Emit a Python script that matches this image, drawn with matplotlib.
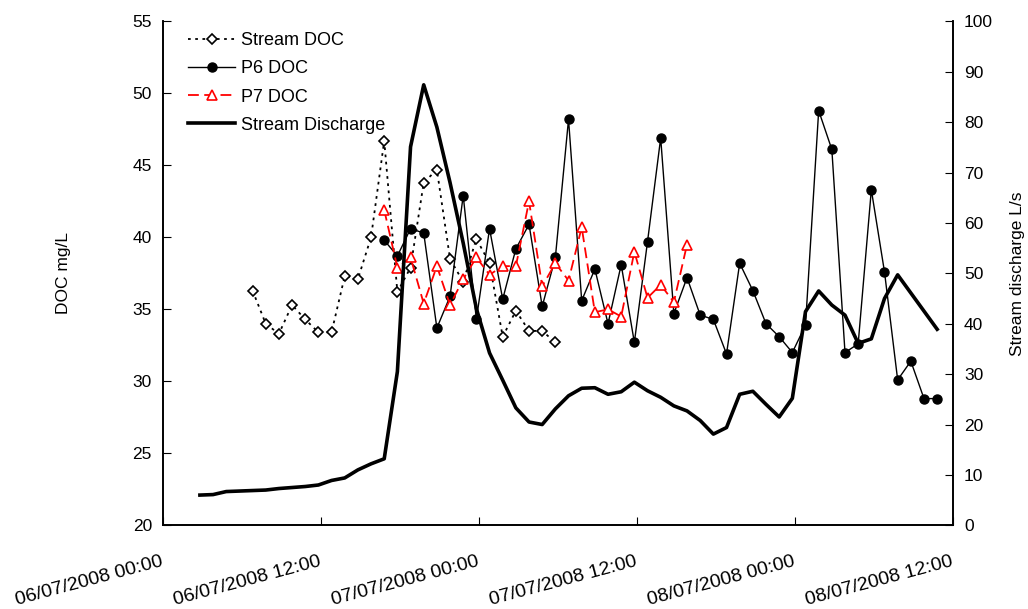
import matplotlib
matplotlib.use("Agg")
import matplotlib.pyplot as plt

plt.rcParams["font.family"] = ["Liberation Sans", "DejaVu Sans"]

# hours since 06/07/2008 00:00
stream_doc_hours = [6.8, 7.8, 8.8, 9.8, 10.8, 11.8, 12.8, 13.8, 14.8, 15.8, 16.8, 17.8,
                    18.8, 19.8, 20.8, 21.8, 22.8, 23.8, 24.8, 25.8, 26.8, 27.8, 28.8, 29.8]
stream_doc = [36.3, 34.0, 33.3, 35.3, 34.3, 33.4, 33.4, 37.3, 37.1, 40.0, 46.7, 36.2,
              37.9, 43.8, 44.7, 38.5, 36.9, 39.9, 38.2, 33.1, 34.9, 33.5, 33.5, 32.7]

p6_hours = [16.8, 17.8, 18.8, 19.8, 20.8, 21.8, 22.8, 23.8, 24.8, 25.8, 26.8, 27.8,
            28.8, 29.8, 30.8, 31.8, 32.8, 33.8, 34.8, 35.8, 36.8, 37.8, 38.8, 39.8,
            40.8, 41.8, 42.8, 43.8, 44.8, 45.8, 46.8, 47.8, 48.8, 49.8, 50.8, 51.8,
            52.8, 53.8, 54.8, 55.8, 56.8, 57.8, 58.8]
p6_doc = [39.8, 38.7, 40.6, 40.3, 33.7, 35.9, 42.9, 34.3, 40.6, 35.7, 39.2, 40.9,
          35.2, 38.6, 48.2, 35.6, 37.8, 34.0, 38.1, 32.7, 39.7, 46.9, 34.7, 37.2,
          34.6, 34.3, 31.9, 38.2, 36.3, 34.0, 33.1, 32.0, 33.9, 48.8, 46.1, 32.0,
          32.6, 43.3, 37.6, 30.1, 31.4, 28.8, 28.8]

p7_hours = [16.8, 17.8, 18.8, 19.8, 20.8, 21.8, 22.8, 23.8, 24.8, 25.8, 26.8, 27.8,
            28.8, 29.8, 30.8, 31.8, 32.8, 33.8, 34.8, 35.8, 36.8, 37.8, 38.8, 39.8]
p7_doc = [41.9, 37.9, 38.6, 35.4, 38.0, 35.3, 37.1, 38.6, 37.4, 38.0, 38.0, 42.5,
          36.6, 38.2, 37.0, 40.7, 34.8, 35.0, 34.5, 39.0, 35.8, 36.7, 35.5, 39.5]

discharge_hours = [2.8, 3.8, 4.8, 5.8, 6.8, 7.8, 8.8, 9.8, 10.8, 11.8, 12.8, 13.8,
                   14.8, 15.8, 16.8, 17.8, 18.8, 19.8, 20.8, 21.8, 22.8, 23.8, 24.8, 25.8,
                   26.8, 27.8, 28.8, 29.8, 30.8, 31.8, 32.8, 33.8, 34.8, 35.8, 36.8, 37.8,
                   38.8, 39.8, 40.8, 41.8, 42.8, 43.8, 44.8, 45.8, 46.8, 47.8, 48.8, 49.8,
                   50.8, 51.8, 52.8, 53.8, 54.8, 55.8, 56.8, 57.8, 58.8]
discharge = [6.0, 6.1, 6.7, 6.8, 6.9, 7.0, 7.3, 7.5, 7.7, 8.0, 8.9, 9.4,
             11.0, 12.2, 13.2, 30.5, 75.1, 87.4, 79.0, 68.0, 56.0, 43.0, 34.2, 28.8,
             23.3, 20.5, 20.0, 23.1, 25.7, 27.2, 27.3, 26.0, 26.5, 28.4, 26.7, 25.4,
             23.7, 22.7, 20.8, 18.1, 19.4, 26.0, 26.6, 24.0, 21.5, 25.2, 42.4, 46.5,
             43.7, 41.7, 36.1, 37.0, 45.0, 49.7, 46.1, 42.5, 38.9]

tick_hours = [0, 12, 24, 36, 48, 60]
tick_labels = ["06/07/2008 00:00", "06/07/2008 12:00", "07/07/2008 00:00",
               "07/07/2008 12:00", "08/07/2008 00:00", "08/07/2008 12:00"]

fig = plt.figure(figsize=(10.28, 6.09), dpi=100)
ax = fig.add_axes([0.1586, 0.1374, 0.7684, 0.8276])
ax2 = ax.twinx()

ax.plot(stream_doc_hours, stream_doc, color="black", linestyle=(0, (1.5, 2.5)), lw=1.3,
        marker="D", markersize=5.5, markerfacecolor="white", markeredgecolor="black",
        markeredgewidth=1.2, label="Stream DOC")
ax.plot(p6_hours, p6_doc, color="black", lw=1.0, marker="o", markersize=6.5,
        label="P6 DOC")
ax.plot(p7_hours, p7_doc, color="red", linestyle=(0, (6, 3)), lw=1.3, marker="^",
        markersize=6.5, markerfacecolor="white", markeredgecolor="red",
        markeredgewidth=1.2, label="P7 DOC")
ax2.plot(discharge_hours, discharge, color="black", lw=2.6, label="Stream Discharge")

ax.set_xlim(0, 60)
ax.set_ylim(20, 55)
ax.set_yticks(range(20, 56, 5))
ax2.set_ylim(0, 100)
ax2.set_yticks(range(0, 101, 10))

ax.set_xticks(tick_hours)
ax.set_xticklabels(tick_labels, rotation=15, ha="right", va="center",
                   rotation_mode="anchor", fontsize=14)
ax.tick_params(axis="x", direction="in", length=6, pad=26)
ax.tick_params(axis="y", direction="in", length=6, labelsize=12.5, pad=8)
ax2.tick_params(axis="y", direction="in", length=6, labelsize=12.5, pad=8)

for a in (ax, ax2):
    a.spines["top"].set_visible(False)
    for s in ("left", "right", "bottom"):
        a.spines[s].set_linewidth(1.2)

ax.set_ylabel("DOC mg/L", fontsize=12.5, labelpad=44)
ax2.set_ylabel("Stream discharge L/s", fontsize=12.5, labelpad=12)

handles = ax.get_lines() + ax2.get_lines()
ax.legend(handles, [h.get_label() for h in handles], loc="upper left",
          bbox_to_anchor=(0.018, 1.0), frameon=False, fontsize=13,
          handlelength=2.6, handletextpad=0.35, labelspacing=0.62, borderaxespad=0.2)

fig.savefig("out.png", dpi=100)
